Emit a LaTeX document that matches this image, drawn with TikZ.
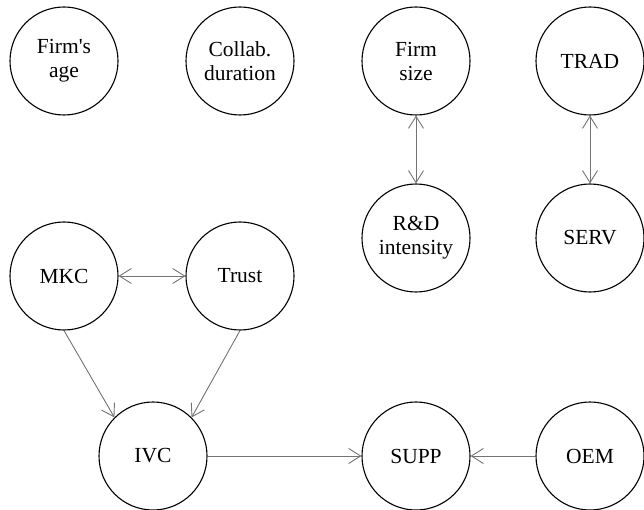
\documentclass[tikz,border=0pt]{standalone}
\usepackage{fontspec}
\setmainfont{Liberation Serif}
\usetikzlibrary{arrows.meta}
\tikzset{
  var/.style={circle, draw=black, line width=1.1pt, minimum size=108pt, inner sep=0pt, align=center, font=\fontsize{21.5}{24}\selectfont},
  link/.style={draw=black!55, line width=0.9pt, -{Straight Barb[length=12pt,width=15pt]}},
  dlink/.style={draw=black!55, line width=0.9pt, {Straight Barb[length=12pt,width=15pt]}-{Straight Barb[length=12pt,width=15pt]}}
}
\begin{document}
\begin{tikzpicture}[x=1pt,y=-1pt]
\useasboundingbox (0,0) rectangle (644,510);
\node[var] (age) at (64,61) {Firm\textquotesingle s\\age};
\node[var] (collab) at (240,61) {Collab.\\duration};
\node[var] (size) at (416,61) {Firm\\size};
\node[var] (trad) at (590,61) {TRAD};
\node[var] (rd) at (416,238) {R\&D\\intensity};
\node[var] (serv) at (590,238) {SERV};
\node[var] (mkc) at (64,276) {MKC};
\node[var] (trust) at (240,276) {Trust};
\node[var] (ivc) at (153,456) {IVC};
\node[var] (supp) at (416,456) {SUPP};
\node[var] (oem) at (590,456) {OEM};
\draw[dlink] (size.south) -- (rd.north);
\draw[dlink] (trad.south) -- (serv.north);
\draw[dlink] (mkc.east) -- (trust.west);
\draw[link] (mkc.south) -- (ivc.135);
\draw[link] (trust.south) -- (ivc.45);
\draw[link] (ivc.east) -- (supp.west);
\draw[link] (oem.west) -- (supp.east);
\end{tikzpicture}
\end{document}
